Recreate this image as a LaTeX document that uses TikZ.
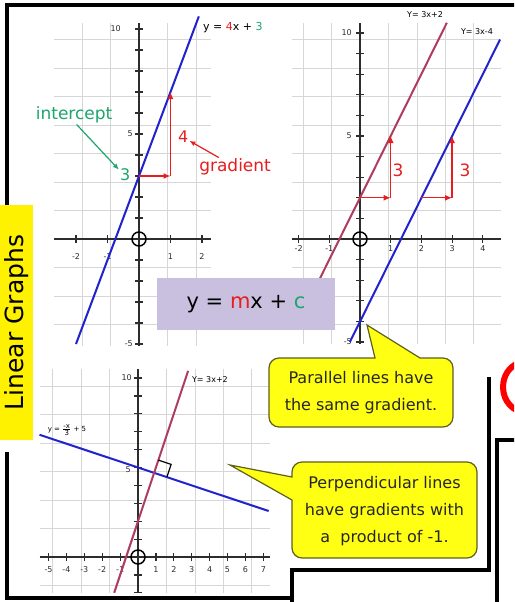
\documentclass[tikz,border=0pt]{standalone}
\usepackage{fontspec}
\setmainfont{DejaVu Sans}
\usetikzlibrary{arrows.meta}

\definecolor{gridgrey}{RGB}{214,214,214}
\definecolor{axisgrey}{RGB}{45,45,45}
\definecolor{lineblue}{RGB}{35,35,205}
\definecolor{linepink}{RGB}{175,60,95}
\definecolor{arrowred}{RGB}{230,30,30}
\definecolor{interceptgreen}{RGB}{30,165,110}
\definecolor{boxlilac}{RGB}{200,192,222}
\definecolor{calloutyellow}{RGB}{255,255,20}
\definecolor{calloutedge}{RGB}{95,95,30}

\tikzset{
gridline/.style={gridgrey, line width=0.8pt},
axisline/.style={axisgrey, line width=1.6pt},
tickline/.style={axisgrey, line width=1.2pt},
ticklbl/.style={font=\fontsize{8}{9}\selectfont, text=axisgrey, inner sep=0pt},
eqnlbl/.style={font=\fontsize{8}{9}\selectfont, inner sep=0pt},
graphline/.style={line width=2pt},
gradarrow/.style={arrowred, line width=1.3pt, -{Latex[length=7pt,width=6pt]}},
frameline/.style={black, line width=3.3pt},
callout/.style={fill=calloutyellow, draw=calloutedge, line width=1.2pt},
callouttext/.style={font=\fontsize{16}{27}\selectfont, align=center, text=black!85}
}

\begin{document}
\begin{tikzpicture}[x=1pt, y=-1pt]

% Fond
\fill[white] (0,0) rectangle (514,602);
\clip (0,0) rectangle (514,602);

% Graphe y = 4x + 3
\begin{scope}[shift={(139,239)}, x=31.5pt, y=21pt]

\draw[gridline] (-2.7,-5.1) grid (2.3,10.3);
\draw[axisline] (-2.7,0) -- (2.3,0);
\draw[axisline] (0,-5.1) -- (0,10.3);

\foreach \x in {-2,-1,1,2}
{
\draw[tickline] (\x,0) ++(0pt,-4pt) -- ++(0pt,8pt);
\node[ticklbl] (ax\x) at ([yshift=-18pt]\x,0) {\x};
}

\foreach \y in {-5,...,10}
{
\draw[tickline] (0,\y) ++(-4pt,0pt) -- ++(8pt,0pt);
}

\node[ticklbl, anchor=east] (ay10) at ([xshift=-18pt]0,10) {10};
\node[ticklbl, anchor=east] (ay5) at ([xshift=-6pt]0,5) {5};
\node[ticklbl, anchor=east] (aym5) at ([xshift=-6pt]0,-5) {-5};

\draw[line width=1.5pt] (0,0) circle (7pt);

\draw[graphline, lineblue] (-2,-5) -- (1.9,10.6);

\node[font=\fontsize{11}{12}\selectfont, inner sep=0pt] (aeqn) at (2.98,10.05)
{y = \textcolor{arrowred}{4}x + \textcolor{interceptgreen}{3}};

\coordinate (arun) at (0,3);
\coordinate (astep) at (1,3);
\coordinate (arise) at (1,7);
\draw[gradarrow] (arun) -- (astep);
\draw[gradarrow] (astep) -- (arise);

\node[text=arrowred, font=\fontsize{16}{16}\selectfont, inner sep=1pt] (afour) at (1.4,4.85) {4};
\node[text=arrowred, font=\fontsize{17}{17}\selectfont, inner sep=1pt] (agradient) at (3.05,3.43) {gradient};
\draw[arrowred, line width=1.2pt, -{Latex[length=6pt,width=5pt]}] (agradient.150) -- (afour.-30);

\node[text=interceptgreen, font=\fontsize{16}{16}\selectfont, inner sep=1pt] (athree) at (-0.44,3.05) {3};
\node[text=interceptgreen, font=\fontsize{17}{17}\selectfont, inner sep=1pt] (aintercept) at (-2.06,5.9) {intercept};
\draw[interceptgreen, line width=1.2pt, -{Latex[length=6pt,width=5pt]}] (aintercept.-75) -- (athree.140);

\end{scope}

% Graphes paralleles
\begin{scope}[shift={(360,239)}, x=30.7pt, y=20.6pt]

\draw[gridline] (-2.2,-5.1) grid (4.6,10.5);
\draw[axisline] (-2.2,0) -- (4.6,0);
\draw[axisline] (0,-5.1) -- (0,10.5);

\foreach \x in {-2,-1,1,2,3,4}
{
\draw[tickline] (\x,0) ++(0pt,-4pt) -- ++(0pt,8pt);
\node[ticklbl] (bx\x) at ([yshift=-10pt]\x,0) {\x};
}

\foreach \y in {-5,...,10}
{
\draw[tickline] (0,\y) ++(-4pt,0pt) -- ++(8pt,0pt);
}

\node[ticklbl, anchor=east] (by10) at ([xshift=-8pt]0,10) {10};
\node[ticklbl, anchor=east] (by5) at ([xshift=-8pt]0,5) {5};
\node[ticklbl, anchor=east] (bym5) at ([xshift=-8pt]0,-5) {-5};

\draw[line width=1.5pt] (0,0) circle (7pt);

\draw[graphline, linepink] (-1.6,-2.8) -- (2.83,10.5);
\draw[graphline, lineblue] (-0.33,-5) -- (4.56,9.68);

\node[eqnlbl] (beqnup) at (2.12,10.87) {Y= 3x+2};
\node[eqnlbl] (beqndown) at (3.81,10.05) {Y= 3x-4};

\coordinate (brun) at (0,2);
\coordinate (bstep) at (1,2);
\coordinate (brise) at (1,5);
\draw[gradarrow] (brun) -- (bstep);
\draw[gradarrow] (bstep) -- (brise);
\node[text=arrowred, font=\fontsize{17}{17}\selectfont, inner sep=1pt] (bthree) at (1.24,3.35) {3};

\coordinate (crun) at (2,2);
\coordinate (cstep) at (3,2);
\coordinate (crise) at (3,5);
\draw[gradarrow] (crun) -- (cstep);
\draw[gradarrow] (cstep) -- (crise);
\node[text=arrowred, font=\fontsize{17}{17}\selectfont, inner sep=1pt] (cthree) at (3.42,3.35) {3};

\end{scope}

% Graphes perpendiculaires
\begin{scope}[shift={(138,557)}, x=17.9pt, y=17.9pt]

\draw[gridline] (-5.5,-2) grid (7.4,10.5);
\draw[axisline] (-5.5,0) -- (7.4,0);
\draw[axisline] (0,-2) -- (0,10.5);

\foreach \x in {-5,-4,-3,-2,-1,1,2,3,4,5,6,7}
{
\draw[tickline] (\x,0) ++(0pt,-4pt) -- ++(0pt,8pt);
\node[ticklbl] (cx\x) at ([yshift=-13pt]\x,0) {\x};
}

\foreach \y in {-2,...,10}
{
\draw[tickline] (0,\y) ++(-4pt,0pt) -- ++(8pt,0pt);
}

\node[ticklbl, anchor=east] (cy10) at ([xshift=-6pt]0,10) {10};
\node[ticklbl, anchor=east] (cy5) at ([xshift=-7pt]0,4.86) {5};

\draw[line width=1.5pt] (0,0) circle (7pt);

\draw[graphline, lineblue] (-5.5,6.83) -- (7.3,2.57);
\draw[graphline, linepink] (-1.33,-2) -- (2.8,10.4);

\draw[black, line width=1.2pt] (1.137,5.412) -- (1.849,5.175) -- (1.612,4.463);

\node[eqnlbl] (ceqnup) at (4.02,9.89) {Y= 3x+2};
\node[eqnlbl, font=\fontsize{7}{8}\selectfont] (ceqnflat) at (-3.97,7.1)
{y = $\frac{\mbox{-x}}{\mbox{3}}$ + 5};

\end{scope}

% y = mx + c
\node[fill=boxlilac, minimum width=178pt, minimum height=52pt,
font=\fontsize{21}{21}\selectfont] (ymxc) at (246,304)
{y = \textcolor{arrowred}{m}x + \textcolor{interceptgreen}{c}};

% Bulles
\draw[callout, rounded corners=10pt] (269,390) -- (269,358)
[sharp corners] -- (375,358) -- (367,325) -- (420,358)
[rounded corners=10pt] -- (453,358) -- (453,427) -- (269,427) -- cycle;
\node[callouttext] (parallel) at (361,392.5) {Parallel lines have\\the same gradient.};

\draw[callout, rounded corners=10pt] (292,520)
[sharp corners] -- (292,500) -- (230,465) -- (292,477)
[rounded corners=10pt] -- (292,462) -- (477,462) -- (477,558) -- (292,558) -- cycle;
\node[callouttext] (perpendicular) at (384.5,511)
{Perpendicular lines\\have gradients with\\a~ product of -1.};

% Cadres
\draw[frameline] (7,205) -- (7,5) -- (520,5);
\draw[frameline] (7,452) -- (7,598) -- (292,598);
\draw[frameline] (292,606) -- (292,570) -- (489,570) -- (489,377);
\draw[frameline] (497,606) -- (497,440) -- (520,440);

\draw[red, line width=6pt] (521.2,411.6) arc[start angle=100, end angle=260, x radius=22, y radius=25];

% Titre
\node[fill=yellow, rotate=90, minimum width=235pt, minimum height=33pt,
font=\fontsize{25}{25}\selectfont] (title) at (16.5,322.5) {Linear Graphs};

\end{tikzpicture}
\end{document}
